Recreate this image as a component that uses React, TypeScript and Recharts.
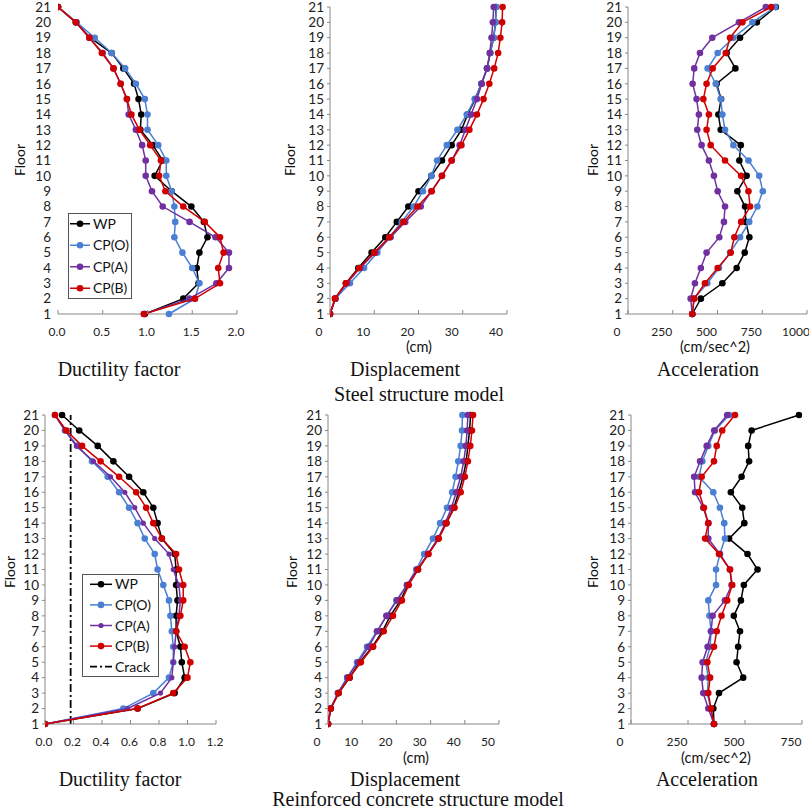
import React from 'react';
import { ScatterChart, Scatter, XAxis, YAxis, ReferenceLine } from 'recharts';

const floors = [1, 2, 3, 4, 5, 6, 7, 8, 9, 10, 11, 12, 13, 14, 15, 16, 17, 18, 19, 20, 21];

// Steel structure model
const steelDuctWP = [0.97, 1.40, 1.57, 1.55, 1.58, 1.67, 1.63, 1.49, 1.27, 1.08, 1.17, 1.06, 0.92, 0.93, 0.90, 0.85, 0.73, 0.60, 0.36, 0.20, 0.0];
const steelDuctCPO = [1.24, 1.53, 1.58, 1.50, 1.39, 1.30, 1.31, 1.30, 1.27, 1.21, 1.21, 1.12, 1.00, 1.00, 0.97, 0.87, 0.75, 0.60, 0.41, 0.21, 0.0];
const steelDuctCPA = [0.96, 1.47, 1.77, 1.91, 1.91, 1.76, 1.47, 1.17, 1.05, 0.98, 0.98, 0.94, 0.87, 0.79, 0.77, 0.70, 0.62, 0.50, 0.35, 0.20, 0.0];
const steelDuctCPB = [0.96, 1.53, 1.81, 1.79, 1.85, 1.81, 1.64, 1.40, 1.20, 1.13, 1.15, 1.03, 0.91, 0.82, 0.77, 0.70, 0.62, 0.49, 0.35, 0.20, 0.0];

const steelDispWP = [0, 1.2, 3.6, 6.4, 9.4, 12.5, 15.1, 17.7, 20.0, 22.9, 25.3, 27.5, 29.7, 31.1, 32.8, 34.2, 35.5, 36.2, 37.0, 37.4, 37.5];
const steelDispCPO = [0, 1.2, 4.5, 7.7, 10.7, 13.4, 16.2, 18.9, 21.0, 22.9, 24.2, 26.4, 28.8, 30.9, 32.7, 34.2, 35.5, 36.2, 37.0, 37.4, 37.6];
const steelDispCPA = [0, 1.2, 3.8, 6.8, 10.2, 13.7, 17.0, 20.5, 22.9, 25.3, 27.5, 29.3, 30.6, 31.9, 33.2, 34.3, 35.5, 36.1, 36.5, 36.8, 37.0];
const steelDispCPB = [0, 1.1, 3.6, 6.6, 10.0, 13.4, 16.6, 19.8, 23.0, 25.3, 27.5, 29.7, 31.5, 33.2, 34.7, 36.0, 37.1, 38.0, 38.5, 38.9, 39.0];

const steelAccWP = [359, 407, 527, 607, 652, 678, 658, 654, 611, 663, 622, 630, 518, 505, 520, 495, 600, 551, 626, 720, 826];
const steelAccCPO = [359, 368, 443, 508, 570, 626, 677, 723, 753, 733, 673, 589, 542, 527, 518, 490, 445, 501, 589, 695, 822];
const steelAccCPA = [359, 350, 374, 407, 439, 510, 536, 542, 501, 480, 452, 411, 387, 396, 383, 361, 370, 402, 471, 620, 770];
const steelAccCPB = [359, 370, 430, 501, 574, 594, 632, 682, 673, 632, 542, 462, 439, 452, 421, 439, 473, 546, 570, 639, 800];

// Reinforced concrete structure model
const rcDuctWP = [0, 0.65, 0.91, 0.98, 0.96, 0.95, 0.92, 0.92, 0.93, 0.92, 0.92, 0.91, 0.82, 0.79, 0.76, 0.69, 0.59, 0.48, 0.37, 0.24, 0.12];
const rcDuctCPO = [0, 0.55, 0.76, 0.87, 0.90, 0.90, 0.89, 0.88, 0.87, 0.83, 0.79, 0.77, 0.70, 0.65, 0.59, 0.52, 0.44, 0.33, 0.23, 0.14, 0.07];
const rcDuctCPA = [0, 0.58, 0.81, 0.89, 0.90, 0.91, 0.92, 0.94, 0.95, 0.94, 0.90, 0.87, 0.77, 0.69, 0.63, 0.56, 0.46, 0.34, 0.22, 0.14, 0.07];
const rcDuctCPB = [0, 0.65, 0.90, 1.00, 1.02, 0.98, 0.92, 0.95, 0.97, 0.97, 0.94, 0.92, 0.82, 0.76, 0.71, 0.64, 0.52, 0.39, 0.26, 0.15, 0.07];
const rcCrack = 0.18;

const rcDispWP = [0, 0.8, 3.1, 6.3, 9.3, 13.0, 15.9, 18.2, 21.2, 23.4, 26.3, 29.2, 32.2, 34.6, 36.8, 38.2, 39.5, 40.4, 40.9, 41.4, 41.7];
const rcDispCPO = [0, 0.7, 2.9, 5.6, 8.5, 11.4, 14.3, 17.1, 20.0, 23.1, 25.8, 28.1, 30.7, 32.8, 34.8, 36.3, 37.3, 38.1, 38.8, 39.2, 39.3];
const rcDispCPA = [0, 0.8, 2.9, 5.7, 8.8, 11.9, 14.4, 17.1, 20.2, 23.1, 26.1, 29.2, 32.2, 34.3, 36.1, 37.5, 38.8, 39.7, 40.3, 40.7, 40.9];
const rcDispCPB = [0, 0.8, 3.1, 6.3, 9.6, 13.2, 16.3, 19.0, 21.6, 23.6, 26.3, 29.4, 32.4, 34.6, 37.0, 38.8, 40.0, 40.9, 41.6, 42.1, 42.4];

const rcAccWP = [364, 361, 386, 492, 463, 470, 478, 451, 482, 495, 555, 511, 430, 497, 488, 438, 485, 518, 514, 529, 737];
const rcAccCPO = [364, 349, 335, 339, 328, 347, 351, 344, 339, 373, 373, 390, 412, 409, 390, 361, 298, 313, 339, 368, 431];
const rcAccCPA = [364, 339, 317, 310, 314, 336, 351, 358, 412, 441, 434, 390, 339, 339, 317, 281, 277, 303, 332, 365, 422];
const rcAccCPB = [364, 351, 339, 347, 335, 364, 376, 397, 422, 444, 434, 386, 325, 339, 320, 298, 310, 364, 376, 400, 456];

// Axis ticks
const ductSteelTicks = [0, 0.5, 1.0, 1.5, 2.0];
const dispSteelTicks = [0, 10, 20, 30, 40];
const accSteelTicks = [0, 250, 500, 750, 1000];
const ductRcTicks = [0, 0.2, 0.4, 0.6, 0.8, 1.0, 1.2];
const dispRcTicks = [0, 10, 20, 30, 40, 50];
const accRcTicks = [0, 250, 500, 750];

const seriesNames = ['WP', 'CP(O)', 'CP(A)', 'CP(B)'];
const COLORS = ['#000000', '#4A7FD4', '#7030A0', '#D00000'];

const SANS = 'Lato, "Open Sans", sans-serif';
const SERIF = '"Liberation Serif", "Times New Roman", serif';

const XTick = (props: any) => {
  const { x, y, payload, dx, fmt } = props;
  return (
    <g>
      <line x1={x} x2={x} y1={y} y2={y - 4} stroke="#888" strokeWidth={1} />
      <text x={x + dx} y={y + 22} textAnchor="middle" fontSize={12} fill="#222" fontFamily={SANS}>
        {fmt(payload.value)}
      </text>
    </g>
  );
};

type PanelProps = {
  x0: number; x1: number; yTop: number; yBot: number;
  domain: [number, number]; ticks: number[]; fmt: (v: number) => string; dx: number;
  series: number[][]; showYLine: boolean; crack?: number; radii?: number[];
};

function Panel(p: PanelProps) {
  const ML = 60, MT = 10, MR = 16, MB = 40;
  const width = p.x1 - p.x0 + ML + MR;
  const height = p.yBot - p.yTop + MT + MB;
  return (
    <div style={{ position: 'absolute', left: p.x0 - ML, top: p.yTop - MT }}>
      <ScatterChart width={width} height={height} margin={{ top: MT, right: MR, bottom: 0, left: 0 }}>
        <XAxis
          type="number" dataKey="x" domain={p.domain} ticks={p.ticks} interval={0}
          height={MB} tickSize={0} tickMargin={0} allowDataOverflow
          axisLine={{ stroke: '#888', strokeWidth: 1 }}
          tick={<XTick dx={p.dx} fmt={p.fmt} />}
        />
        <YAxis
          type="number" dataKey="y" domain={[1, 21]} ticks={floors} interval={0} width={ML}
          axisLine={p.showYLine ? { stroke: '#888', strokeWidth: 1 } : false}
          tickLine={p.showYLine ? { stroke: '#888' } : false}
          tickSize={p.showYLine ? 3 : 0} tickMargin={p.showYLine ? 3 : 7}
          tick={{ fontSize: 13.5, fill: '#222', fontFamily: SANS }}
        />
        {p.crack !== undefined && (
          <ReferenceLine x={p.crack} stroke="#000" strokeWidth={1.8} strokeDasharray="8 3 2 3" />
        )}
        {p.series.map((vals, si) => (
          <Scatter
            key={seriesNames[si]}
            name={seriesNames[si]}
            data={floors.map((f, i) => ({ x: vals[i], y: f }))}
            fill={COLORS[si]}
            line={{ stroke: COLORS[si], strokeWidth: 1.5 }}
            isAnimationActive={false}
            shape={(sp: any) => (
              <circle cx={sp.cx} cy={sp.cy} r={p.radii ? p.radii[si] : 3.3} fill={COLORS[si]} />
            )}
          />
        ))}
      </ScatterChart>
    </div>
  );
}

const Txt = ({ x, y, children, size, font, rotate }: any) => (
  <div
    style={{
      position: 'absolute', left: x, top: y, fontSize: size, fontFamily: font, color: '#111',
      whiteSpace: 'nowrap', lineHeight: 1,
      transform: `translate(-50%, -50%)${rotate ? ' rotate(-90deg)' : ''}`,
    }}
  >
    {children}
  </div>
);

function Legend({ left, top, width, height, items, lineX1, lineX2, textX }: any) {
  const rowH = height / items.length;
  return (
    <svg style={{ position: 'absolute', left, top }} width={width} height={height}>
      <rect x={0.5} y={0.5} width={width - 1} height={height - 1} fill="#fff" stroke="#555" strokeWidth={1} />
      {items.map((it: any, i: number) => {
        const cy = rowH * (i + 0.5);
        return (
          <g key={it.name}>
            <line x1={lineX1} x2={lineX2} y1={cy} y2={cy} stroke={it.color} strokeWidth={it.dash ? 1.8 : 1.5}
              strokeDasharray={it.dash ? '7 3 2 3' : undefined} />
            {!it.dash && <circle cx={(lineX1 + lineX2) / 2} cy={cy} r={it.r || 3.3} fill={it.color} />}
            <text x={textX} y={cy + 5} fontSize={14} fontFamily={SANS} fill="#111">{it.name}</text>
          </g>
        );
      })}
    </svg>
  );
}

const fmt1 = (v: number) => v.toFixed(1);
const fmt0 = (v: number) => String(v);

export default function App() {
  const topY0 = 7, topY1 = 314, botY0 = 415, botY1 = 724;
  return (
    <div style={{ position: 'absolute', left: 0, top: 0, width: 809, height: 811, overflow: 'hidden', background: '#fff' }}>
      <Panel x0={58} x1={237} yTop={topY0} yBot={topY1} domain={[0, 2]} ticks={ductSteelTicks} fmt={fmt1} dx={-1}
        series={[steelDuctWP, steelDuctCPO, steelDuctCPA, steelDuctCPB]} showYLine={false} />
      <Panel x0={330} x1={507} yTop={topY0} yBot={topY1} domain={[0, 40]} ticks={dispSteelTicks} fmt={fmt0} dx={-11}
        series={[steelDispWP, steelDispCPO, steelDispCPA, steelDispCPB]} showYLine={true} />
      <Panel x0={628} x1={807} yTop={topY0} yBot={topY1} domain={[0, 1000]} ticks={accSteelTicks} fmt={fmt0} dx={-11}
        series={[steelAccWP, steelAccCPO, steelAccCPA, steelAccCPB]} showYLine={true} />

      <Panel x0={45} x1={216} yTop={botY0} yBot={botY1} domain={[0, 1.2]} ticks={ductRcTicks} fmt={fmt1} dx={-1}
        series={[rcDuctWP, rcDuctCPO, rcDuctCPA, rcDuctCPB]} showYLine={true} crack={rcCrack} radii={[3.3, 3.3, 2.6, 3.3]} />
      <Panel x0={328} x1={499} yTop={botY0} yBot={botY1} domain={[0, 50]} ticks={dispRcTicks} fmt={fmt0} dx={-11}
        series={[rcDispWP, rcDispCPO, rcDispCPA, rcDispCPB]} showYLine={true} />
      <Panel x0={631} x1={802} yTop={botY0} yBot={botY1} domain={[0, 750]} ticks={accRcTicks} fmt={fmt0} dx={-11}
        series={[rcAccWP, rcAccCPO, rcAccCPA, rcAccCPB]} showYLine={true} />

      <Legend left={68} top={213} width={64} height={86} lineX1={2} lineX2={22} textX={25}
        items={seriesNames.map((n, i) => ({ name: n, color: COLORS[i] }))} />
      <Legend left={82} top={574} width={77} height={103} lineX1={8} lineX2={30} textX={33}
        items={[...seriesNames.map((n, i) => ({ name: n, color: COLORS[i], r: i === 2 ? 2.6 : 3.3 })), { name: 'Crack', color: '#000', dash: true }]} />

      <Txt x={20} y={160} size={14} font={SANS} rotate>Floor</Txt>
      <Txt x={290} y={160} size={14} font={SANS} rotate>Floor</Txt>
      <Txt x={593} y={160} size={14} font={SANS} rotate>Floor</Txt>
      <Txt x={10} y={572} size={14} font={SANS} rotate>Floor</Txt>
      <Txt x={292} y={572} size={14} font={SANS} rotate>Floor</Txt>
      <Txt x={593} y={572} size={14} font={SANS} rotate>Floor</Txt>

      <Txt x={419} y={347} size={14.5} font={SANS}>(cm)</Txt>
      <Txt x={715} y={347} size={14.5} font={SANS}>(cm/sec^2)</Txt>
      <Txt x={416} y={758} size={14.5} font={SANS}>(cm)</Txt>
      <Txt x={716} y={758} size={14.5} font={SANS}>(cm/sec^2)</Txt>

      <Txt x={119} y={369} size={20} font={SERIF}>Ductility factor</Txt>
      <Txt x={405} y={369} size={20} font={SERIF}>Displacement</Txt>
      <Txt x={708} y={369} size={20} font={SERIF}>Acceleration</Txt>
      <Txt x={419} y={394} size={20} font={SERIF}>Steel structure model</Txt>

      <Txt x={120} y={779} size={20} font={SERIF}>Ductility factor</Txt>
      <Txt x={405} y={779} size={20} font={SERIF}>Displacement</Txt>
      <Txt x={707} y={779} size={20} font={SERIF}>Acceleration</Txt>
      <Txt x={418} y={799} size={20} font={SERIF}>Reinforced concrete structure model</Txt>
    </div>
  );
}
